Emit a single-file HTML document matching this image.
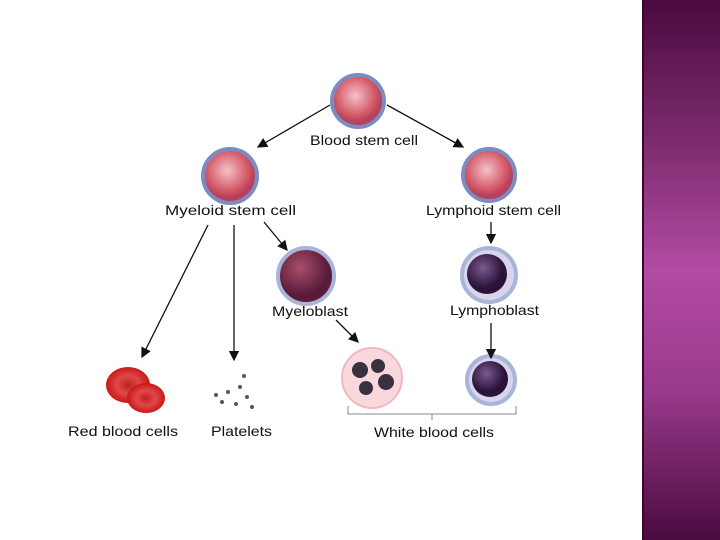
<!DOCTYPE html><html><head><style>
body{margin:0;width:720px;height:540px;overflow:hidden;background:#fff;position:relative}
.s{position:absolute;left:642px;top:0;width:78px;height:540px;background:linear-gradient(#4a0b3f 0%,#7a2a6c 25%,#b24ba2 50%,#9a3a8c 72%,#4a0b3f 100%);border-left:2px solid #3a0630}
text{font-family:"Liberation Sans",sans-serif;font-size:14px;fill:#111}
</style></head><body>
<svg width="720" height="540" style="position:absolute;left:0;top:0">
<defs>
<marker id="a" markerWidth="8" markerHeight="8" refX="7" refY="4" orient="auto"><path d="M0,0L8,4L0,8z" fill="#111"/></marker>
<radialGradient id="st" cx="45%" cy="40%"><stop offset="0" stop-color="#f4c2c8"/><stop offset=".7" stop-color="#d7606e"/><stop offset="1" stop-color="#b8405a"/></radialGradient>
<radialGradient id="mb" cx="40%" cy="35%"><stop offset="0" stop-color="#a8506a"/><stop offset="1" stop-color="#5a1a3a"/></radialGradient>
<radialGradient id="lb" cx="40%" cy="35%"><stop offset="0" stop-color="#7a5a90"/><stop offset="1" stop-color="#2a1238"/></radialGradient>
<radialGradient id="rb" cx="50%" cy="50%"><stop offset="0" stop-color="#c02020"/><stop offset=".5" stop-color="#e04848"/><stop offset="1" stop-color="#c81818"/></radialGradient>
</defs>
<g stroke="#7b8cc0" stroke-width="4">
<circle cx="358" cy="101" r="26" fill="url(#st)"/>
<circle cx="230" cy="176" r="27" fill="url(#st)"/>
<circle cx="489" cy="175" r="26" fill="url(#st)"/>
<circle cx="306" cy="276" r="28" fill="url(#mb)" stroke="#a8b4d8"/>
<circle cx="489" cy="275" r="27" fill="#d8d4ec" stroke="#a8b4d8"/>
<circle cx="491" cy="380" r="24" fill="#d8d4ec" stroke="#a8b4d8"/>
</g>
<circle cx="487" cy="274" r="20" fill="url(#lb)"/>
<circle cx="490" cy="379" r="18" fill="url(#lb)"/>
<circle cx="372" cy="378" r="30" fill="#f8d8dc" stroke="#f0b8c0" stroke-width="2"/>
<g fill="#3a3040"><circle cx="360" cy="370" r="8"/><circle cx="378" cy="366" r="7"/><circle cx="386" cy="382" r="8"/><circle cx="366" cy="388" r="7"/></g>
<ellipse cx="128" cy="385" rx="22" ry="18" fill="url(#rb)"/>
<ellipse cx="146" cy="398" rx="19" ry="15" fill="url(#rb)"/>
<g fill="#556"><circle cx="228" cy="392" r="2"/><circle cx="240" cy="387" r="2"/><circle cx="247" cy="397" r="2"/><circle cx="222" cy="402" r="2"/><circle cx="236" cy="404" r="2"/><circle cx="252" cy="407" r="2"/><circle cx="244" cy="376" r="2"/><circle cx="216" cy="395" r="2"/></g>
<g stroke="#111" stroke-width="1.3" marker-end="url(#a)">
<line x1="330" y1="105" x2="258" y2="147"/><line x1="387" y1="105" x2="463" y2="147"/>
<line x1="208" y1="225" x2="142" y2="357"/><line x1="234" y1="225" x2="234" y2="360"/>
<line x1="264" y1="222" x2="287" y2="250"/><line x1="491" y1="222" x2="491" y2="243"/>
<line x1="336" y1="320" x2="358" y2="342"/><line x1="491" y1="323" x2="491" y2="358"/>
</g>
<path d="M348,406V414H516V406M432,414V420" fill="none" stroke="#888" stroke-width="1"/>
<g lengthAdjust="spacingAndGlyphs">
<text x="310" y="145" textLength="108" lengthAdjust="spacingAndGlyphs">Blood stem cell</text>
<text x="165" y="215" textLength="131" lengthAdjust="spacingAndGlyphs">Myeloid stem cell</text>
<text x="426" y="215" textLength="135" lengthAdjust="spacingAndGlyphs">Lymphoid stem cell</text>
<text x="272" y="316" textLength="76" lengthAdjust="spacingAndGlyphs">Myeloblast</text>
<text x="450" y="315" textLength="89" lengthAdjust="spacingAndGlyphs">Lymphoblast</text>
<text x="68" y="436" textLength="110" lengthAdjust="spacingAndGlyphs">Red blood cells</text>
<text x="211" y="436" textLength="61" lengthAdjust="spacingAndGlyphs">Platelets</text>
<text x="374" y="437" textLength="120" lengthAdjust="spacingAndGlyphs">White blood cells</text>
</g>
</svg>
<div class="s"></div>
</body></html>
